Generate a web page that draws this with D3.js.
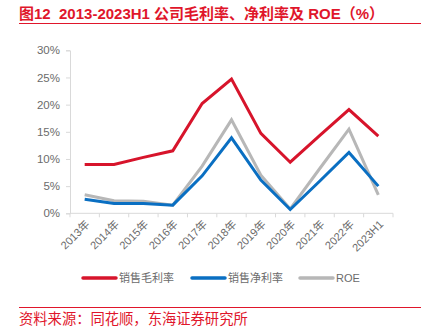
<!DOCTYPE html>
<html>
<head>
<meta charset="utf-8">
<script src="https://cdn.jsdelivr.net/npm/d3@7/dist/d3.min.js"></script>
<style>
  html, body { margin: 0; padding: 0; background: #fff; }
  svg { display: block; }
  text { font-family: "Liberation Sans", Arial, "Noto Sans CJK SC", sans-serif; }
</style>
</head>
<body>
<svg id="chart" width="433" height="330"></svg>
<script>
// Years shown on the x axis
const categories = ["2013年", "2014年", "2015年", "2016年", "2017年", "2018年", "2019年", "2020年", "2021年", "2022年", "2023H1"];
// Ratios in percent
const grossMargin = [9.0, 9.0, 10.3, 11.5, 20.2, 24.7, 14.7, 9.4, 14.3, 19.1, 14.2];
const netMargin   = [2.6, 1.8, 1.8, 1.5, 6.9, 13.9, 6.1, 0.7, 5.9, 11.2, 5.0];
const roe         = [3.4, 2.3, 2.2, 1.5, 8.7, 17.2, 7.0, 0.8, 8.2, 15.5, 3.4];
const yTicks = [0, 5, 10, 15, 20, 25, 30];
const seriesNames = ["销售毛利率", "销售净利率", "ROE"];
const seriesColors = ["#d7142b", "#0a6fc2", "#b7b7b7"];

const series = [grossMargin, netMargin, roe].map((values, i) => ({
  name: seriesNames[i], color: seriesColors[i], values
}));

const svg = d3.select("#chart");
const plot = { left: 70, right: 393, top: 50.3, bottom: 213.3 };

const x = d3.scaleBand().domain(categories).range([plot.left, plot.right]).padding(0);
const y = d3.scaleLinear().domain([0, 30]).range([plot.bottom, plot.top]);

// Title with underline
svg.append("text")
  .attr("x", 19).attr("y", 19)
  .attr("fill", "#e0162b")
  .attr("font-size", 15).attr("font-weight", "bold")
  .style("white-space", "pre")
  .text("图12  2013-2023H1 公司毛利率、净利率及 ROE（%）");
svg.append("line")
  .attr("x1", 19).attr("x2", 421).attr("y1", 23.5).attr("y2", 23.5)
  .attr("stroke", "#e0162b").attr("stroke-width", 1.2);

// Y axis
const yAxis = svg.append("g")
  .attr("transform", `translate(${plot.left},0)`)
  .call(d3.axisLeft(y).tickValues(yTicks).tickFormat(d => d + "%").tickSize(4).tickPadding(6));
yAxis.select(".domain").attr("stroke", "#d9d9d9");
yAxis.selectAll(".tick line").attr("stroke", "#d9d9d9");
yAxis.selectAll(".tick text").attr("fill", "#6b6b6b").attr("font-size", 11.5)
  .attr("font-family", "\"Liberation Sans\", Arial, sans-serif");

// X axis with boundary ticks
const xAxisG = svg.append("g").attr("transform", `translate(0,${plot.bottom})`);
xAxisG.append("line")
  .attr("x1", plot.left).attr("x2", plot.right)
  .attr("stroke", "#d9d9d9");
const boundaries = categories.map(c => x(c)).concat([plot.right]);
xAxisG.selectAll("line.tk").data(boundaries).join("line")
  .attr("class", "tk")
  .attr("x1", d => d).attr("x2", d => d).attr("y1", 0).attr("y2", 4)
  .attr("stroke", "#d9d9d9");
xAxisG.selectAll("text").data(categories).join("text")
  .attr("transform", d => `translate(${x(d) + x.bandwidth() / 2 + 3},${9}) rotate(-45)`)
  .attr("text-anchor", "end")
  .attr("dy", "0.35em")
  .attr("fill", "#6b6b6b")
  .attr("font-size", 11)
  .text(d => d);

// Lines
const line = d3.line()
  .x((d, i) => x(categories[i]) + x.bandwidth() / 2)
  .y(d => y(d));

svg.append("g").selectAll("path").data(series.slice().reverse()).join("path")
  .attr("d", d => line(d.values))
  .attr("fill", "none")
  .attr("stroke", d => d.color)
  .attr("stroke-width", 3)
  .attr("stroke-linejoin", "miter");

// Legend
const legendPos = [83, 192, 300];
const legend = svg.append("g");
series.forEach((s, i) => {
  legend.append("line")
    .attr("x1", legendPos[i]).attr("x2", legendPos[i] + 33)
    .attr("y1", 278).attr("y2", 278)
    .attr("stroke", s.color).attr("stroke-width", 3.5).attr("stroke-linecap", "round");
  legend.append("text")
    .attr("x", legendPos[i] + 36).attr("y", 282)
    .attr("fill", "#6b6b6b").attr("font-size", 11)
    .text(s.name);
});

// Source note
svg.append("line")
  .attr("x1", 19).attr("x2", 421).attr("y1", 307.5).attr("y2", 307.5)
  .attr("stroke", "#e0162b").attr("stroke-width", 1);
svg.append("text")
  .attr("x", 19).attr("y", 324)
  .attr("fill", "#e0162b").attr("font-size", 14.3)
  .text("资料来源：同花顺，东海证券研究所");
</script>
</body>
</html>
